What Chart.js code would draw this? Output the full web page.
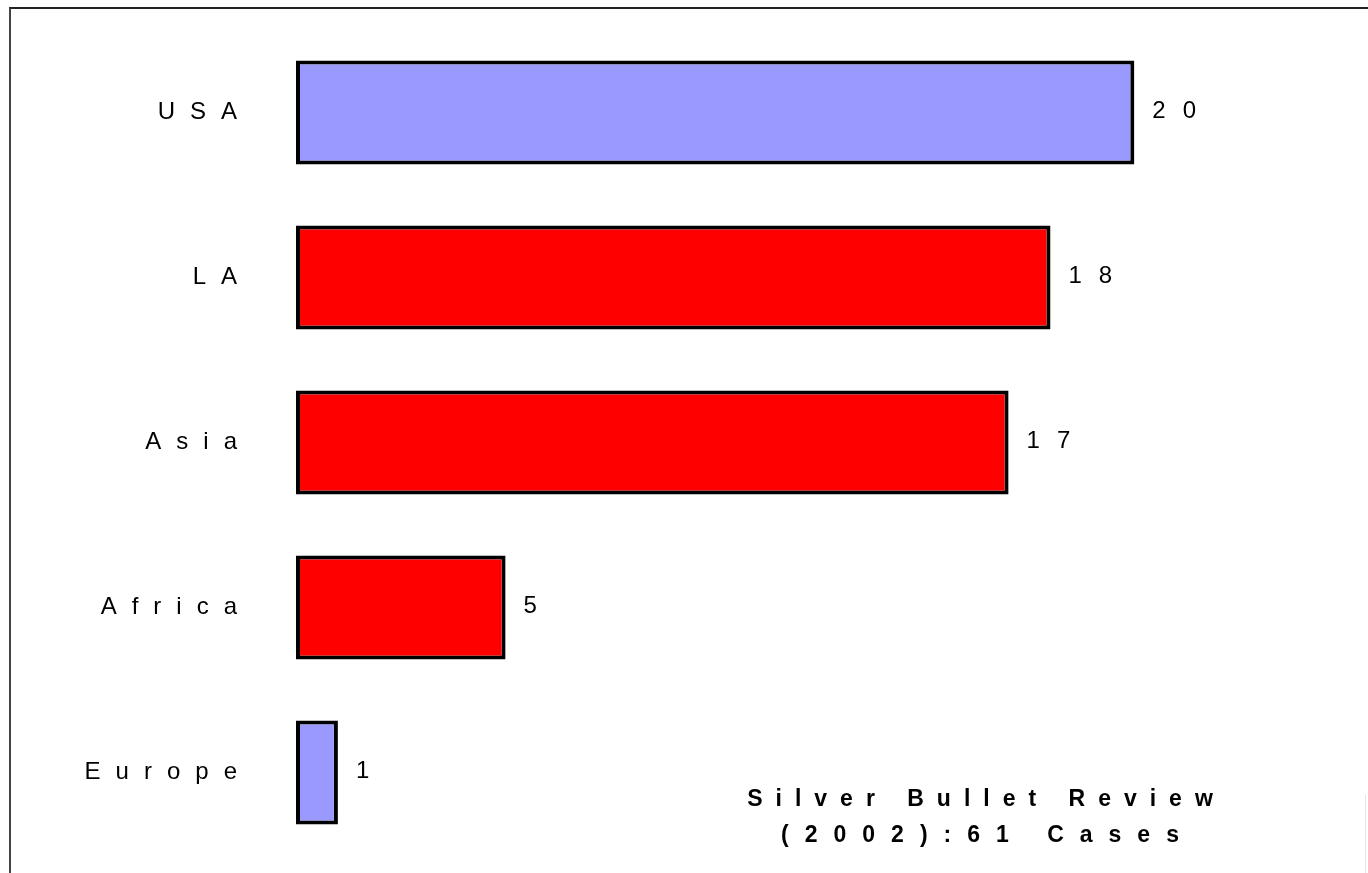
<!DOCTYPE html>
<html>
<head>
<meta charset="utf-8">
<title>Silver Bullet Review</title>
<script src="https://cdn.jsdelivr.net/npm/chart.js@4.4.1/dist/chart.umd.min.js"></script>
<style>
  html, body { margin: 0; padding: 0; background: #fff; }
  #wrap { position: relative; width: 1368px; height: 873px; overflow: hidden; }
  #frame { position: absolute; left: 9px; top: 7px; right: -4px; bottom: -4px;
           border-top: 2px solid #222; border-left: 2px solid #444; }
  #edge { position: absolute; left: 1365px; top: 795px; width: 1px; height: 78px; background: #e4e4e4; }
  canvas { position: absolute; left: 0; top: 0; }
</style>
</head>
<body>
<div id="wrap">
  <div id="frame"></div>
  <div id="edge"></div>
  <canvas id="regions-chart" width="1368" height="873"></canvas>
</div>
<script>
const regions = ['USA', 'LA', 'Asia', 'Africa', 'Europe'];
const cases = [20, 18, 17, 5, 1];
const barColors = ['#9999FF', '#FF0000', '#FF0000', '#FF0000', '#9999FF'];
const titleLines = ['Silver Bullet Review', '(2002):61 Cases'];

const FONT = 'Liberation Sans, Arial, sans-serif';

// canvas state is reset on resize, so the wide tracking is applied before each layout/draw
const spacingPlugin = {
    id: 'spacing',
    beforeLayout(chart) { chart.ctx.letterSpacing = '15px'; },
    beforeDraw(chart) { chart.ctx.letterSpacing = '15px'; }
};

// case counts to the right of each bar
const valueLabels = {
    id: 'valueLabels',
    afterDatasetsDraw(chart) {
        const ctx = chart.ctx;
        const meta = chart.getDatasetMeta(0);
        ctx.save();
        ctx.font = '24px ' + FONT;
        ctx.letterSpacing = '17px';
        ctx.fillStyle = '#000';
        ctx.textAlign = 'left';
        ctx.textBaseline = 'middle';
        meta.data.forEach((bar, i) => {
            ctx.fillText(String(cases[i]), bar.x + 18, bar.y - 1);
        });
        ctx.restore();
    }
};

// two-line caption in the lower right
const caption = {
    id: 'caption',
    afterDraw(chart) {
        const ctx = chart.ctx;
        const spacing = [13, 16];
        const rows = [800, 836];
        ctx.save();
        ctx.font = 'bold 23px ' + FONT;
        ctx.fillStyle = '#000';
        ctx.textAlign = 'center';
        ctx.textBaseline = 'middle';
        titleLines.forEach((line, i) => {
            ctx.letterSpacing = spacing[i] + 'px';
            ctx.fillText(line, 980 + spacing[i] / 2, rows[i]);
        });
        ctx.restore();
    }
};

const ctx = document.getElementById('regions-chart').getContext('2d');
new Chart(ctx, {
    type: 'bar',
    data: {
        labels: regions,
        datasets: [{
            data: cases,
            backgroundColor: barColors,
            borderColor: '#000',
            borderWidth: 4,
            borderSkipped: false,
            categoryPercentage: 1,
            barPercentage: 0.63
        }]
    },
    options: {
        indexAxis: 'y',
        responsive: false,
        animation: false,
        layout: {
            padding: { top: 30, bottom: 18, left: 0, right: 66 }
        },
        scales: {
            x: {
                display: false,
                min: 0,
                max: 24
            },
            y: {
                grid: { display: false },
                border: { display: false },
                ticks: {
                    color: '#000',
                    padding: 36,
                    font: { family: FONT, size: 24 }
                },
                afterFit(scale) {
                    // tick padding would otherwise push the plot away from top and bottom
                    scale.width = 296;
                    scale.paddingTop = 0;
                    scale.paddingBottom = 0;
                }
            }
        },
        plugins: {
            legend: { display: false },
            tooltip: { enabled: false }
        }
    },
    plugins: [spacingPlugin, valueLabels, caption]
});
</script>
</body>
</html>
